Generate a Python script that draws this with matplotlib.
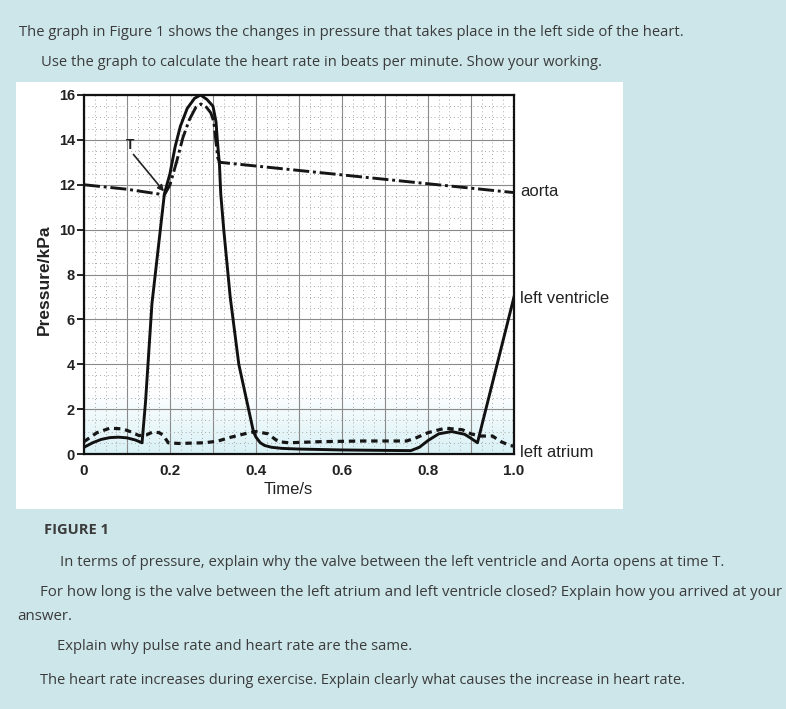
import numpy as np
import matplotlib
matplotlib.use("Agg")
import matplotlib.pyplot as plt
from matplotlib.patches import Rectangle
from matplotlib.ticker import MultipleLocator, FixedLocator, FixedFormatter
import matplotlib.transforms as mtransforms

# chart data (time in s, pressure in kPa)
lv_t = [0.0, 0.02, 0.04, 0.06, 0.08, 0.10, 0.12, 0.135, 0.143, 0.158, 0.187, 0.20, 0.212,
        0.224, 0.24, 0.257, 0.271, 0.286, 0.30, 0.307, 0.31, 0.315, 0.318, 0.325, 0.34,
        0.36, 0.394, 0.40, 0.41, 0.42, 0.436, 0.46, 0.50, 0.60, 0.70, 0.76, 0.78, 0.80,
        0.825, 0.855, 0.885, 0.90, 0.915, 1.0]
lv_p = [0.3, 0.5, 0.65, 0.73, 0.75, 0.72, 0.62, 0.5, 2.3, 6.7, 11.6, 12.5, 13.7,
        14.6, 15.4, 15.85, 16.0, 15.8, 15.5, 14.8, 14.0, 12.9, 11.6, 10.0, 7.0,
        4.0, 1.0, 0.75, 0.5, 0.38, 0.3, 0.25, 0.22, 0.18, 0.16, 0.15, 0.3, 0.6,
        0.9, 1.0, 0.88, 0.7, 0.5, 7.0]

aorta_t = [0.0, 0.1, 0.187, 0.20, 0.215, 0.23, 0.245, 0.26, 0.272, 0.285, 0.295,
           0.302, 0.307, 0.311, 0.316, 1.0]
aorta_p = [12.0, 11.8, 11.55, 12.0, 13.0, 14.1, 14.9, 15.45, 15.6, 15.45, 15.2,
           14.8, 13.9, 13.2, 13.0, 11.65]

la_t = [0.0, 0.03, 0.06, 0.09, 0.11, 0.128, 0.145, 0.16, 0.175, 0.184, 0.196, 0.22,
        0.28, 0.31, 0.34, 0.38, 0.40, 0.428, 0.44, 0.452, 0.476, 0.55, 0.65, 0.75,
        0.77, 0.80, 0.84, 0.88, 0.90, 0.92, 0.95, 0.97, 0.99, 1.0]
la_p = [0.55, 0.95, 1.15, 1.12, 0.98, 0.82, 0.85, 0.98, 0.95, 0.84, 0.5, 0.47,
        0.5, 0.57, 0.74, 0.93, 1.0, 0.9, 0.72, 0.55, 0.5, 0.55, 0.58, 0.58,
        0.7, 0.95, 1.15, 1.08, 0.9, 0.8, 0.8, 0.55, 0.38, 0.35]

x_ticks = [0.0, 0.1, 0.2, 0.3, 0.4, 0.5, 0.6, 0.7, 0.8, 0.9, 1.0]
x_labels = ["0", "", "0.2", "", "0.4", "", "0.6", "", "0.8", "", "1.0"]
y_ticks = [0, 2, 4, 6, 8, 10, 12, 14, 16]

W, H = 786, 709
bg = "#cce6ea"
txt_col = "#3b3b3b"

fig = plt.figure(figsize=(W / 100, H / 100), dpi=100)
fig.patch.set_facecolor(bg)

# white panel behind the graph
fig.patches.append(Rectangle((16 / W, 1 - 509 / H), (623 - 16) / W, (509 - 82) / H,
                             transform=fig.transFigure, facecolor="white",
                             edgecolor="none", zorder=0))

ax = fig.add_axes([84 / W, 1 - 454 / H, (514 - 84) / W, (454 - 95) / H])
ax.set_zorder(2)
ax.set_facecolor("white")

# faint cyan tint near the bottom of the plot
grad = np.zeros((60, 2, 4))
grad[..., :3] = matplotlib.colors.to_rgb("#d6f0f5")
grad[..., 3] = np.linspace(0.95, 0.0, 60)[:, None]
ax.imshow(grad, extent=(0, 1, 0, 2.8), aspect="auto", origin="lower", zorder=0.5)

ax.set_xlim(0, 1.0)
ax.set_ylim(0, 16)

ax.xaxis.set_major_locator(FixedLocator(x_ticks))
ax.xaxis.set_major_formatter(FixedFormatter(x_labels))
ax.xaxis.set_minor_locator(MultipleLocator(0.025))
ax.set_yticks(y_ticks)
ax.yaxis.set_minor_locator(MultipleLocator(0.5))

ax.grid(which="major", color="#8a8a8a", lw=0.8, zorder=1)
ax.grid(which="minor", color="#a8a8a8", lw=0.7, linestyle=(0, (1, 3)), zorder=1)
ax.set_axisbelow(True)

ax.tick_params(axis="x", which="both", length=0, pad=7, labelsize=11, labelcolor="#222")
ax.tick_params(axis="y", which="major", length=5, width=1.2, pad=1.5, labelsize=10.5,
               labelcolor="#222")
ax.tick_params(axis="y", which="minor", length=0)
for lab in ax.get_xticklabels() + ax.get_yticklabels():
    lab.set_fontweight("bold")
    lab.set_family("Liberation Sans")
for sp in ax.spines.values():
    sp.set_linewidth(1.6)
    sp.set_color("#111")

# curves
ax.plot(la_t, la_p, color="#161616", lw=2.3, linestyle=(0, (2.0, 1.5)), zorder=3,
        solid_capstyle="butt")
ax.plot(aorta_t, aorta_p, color="#161616", lw=2.1, linestyle=(0, (5.5, 1.3, 1.0, 1.3)),
        zorder=3)
ax.plot(lv_t, lv_p, color="#111", lw=2.1, zorder=4, solid_joinstyle="round")

# T marker
ax.text(0.106, 13.75, "T", fontsize=10, family="Liberation Sans", color="#222",
        ha="center", va="center", weight="bold")
ax.annotate("", xy=(0.186, 11.7), xytext=(0.115, 13.35),
            arrowprops=dict(arrowstyle="-|>", color="#222", lw=1.2,
                            mutation_scale=9, shrinkA=0, shrinkB=0), zorder=5)

# axis titles
ax.text(0.474, -0.1, "Time/s", transform=ax.transAxes, fontsize=12,
        family="Liberation Sans", color="#222", ha="center", va="center")
ax.text(-0.091, 0.485, "Pressure/kPa", transform=ax.transAxes, fontsize=12.5,
        family="Liberation Sans", color="#222", ha="center", va="center",
        rotation=90, weight="bold")

# curve names on the right
trans = mtransforms.blended_transform_factory(ax.transAxes, ax.transData)
for name, yv in [("aorta", 11.68), ("left ventricle", 6.95), ("left atrium", 0.05)]:
    ax.text(1.014, yv, name, transform=trans, fontsize=12, family="Liberation Sans",
            color="#222", ha="left", va="center")

# worksheet text
renderer = fig.canvas.get_renderer()


def put(x0, yc, s, x1=None, size=None, weight="normal"):
    t = fig.text(x0 / W, 1 - yc / H, s, fontsize=10, family="Open Sans", color=txt_col,
                 ha="left", va="center", weight=weight)
    if x1 is not None:
        w = t.get_window_extent(renderer).width
        t.set_fontsize(10 * (x1 - x0) / w)
    else:
        t.set_fontsize(size)
    return t


put(19, 32, "The graph in Figure 1 shows the changes in pressure that takes place in "
            "the left side of the heart.", x1=683)
put(41, 63, "Use the graph to calculate the heart rate in beats per minute. "
            "Show your working.", x1=600)
put(44, 530, "FIGURE 1", x1=108, weight="bold")
put(60, 562, "In terms of pressure, explain why the valve between the left ventricle "
             "and Aorta opens at time T.", x1=722)
t5 = put(40, 593, "For how long is the valve between the left atrium and left ventricle "
                  "closed? Explain how you arrived at your", x1=780)
put(17, 617, "answer.", size=t5.get_fontsize())
put(57, 647, "Explain why pulse rate and heart rate are the same.", x1=410)
put(40, 680, "The heart rate increases during exercise. Explain clearly what causes "
             "the increase in heart rate.", x1=685)

fig.savefig("out.png", dpi=100, facecolor=fig.get_facecolor())
